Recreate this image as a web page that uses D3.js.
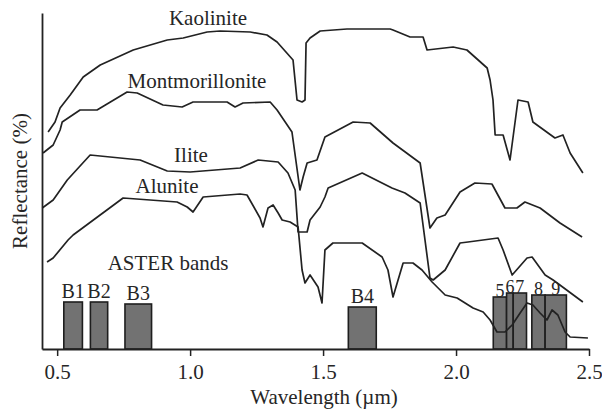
<!DOCTYPE html>
<html>
<head>
<meta charset="utf-8">
<script src="https://cdn.jsdelivr.net/npm/d3@7"></script>
<style>
  html, body { margin: 0; padding: 0; background: #fff; }
  svg { display: block; }
  text { font-family: "Liberation Serif", "DejaVu Serif", serif; fill: #262626; }
</style>
</head>
<body>
<svg id="chart" width="602" height="410"></svg>
<script>
// ---- Data (wavelength in µm, relative reflectance) ----
const kaoliniteW = [0.466,0.492,0.511,0.549,0.598,0.662,0.786,0.914,0.974,1.064,1.113,1.226,1.289,1.327,1.387,1.402,1.421,1.432,1.436,1.451,1.489,1.590,1.752,1.763,1.827,1.876,1.891,1.989,2.041,2.117,2.128,2.139,2.147,2.177,2.203,2.233,2.271,2.289,2.372,2.402,2.429,2.477];
const kaoliniteR = [54.25,56.75,60.25,63.5,68,71,74.75,77.25,77.75,79.25,79.5,79.25,78.5,76.75,72.25,62.25,61.75,62.25,76.5,77.75,79.5,80,80,79.75,78,78,74.75,75.5,74.75,70.25,67.25,62.25,53.5,53.5,47.25,62.25,61.75,56.75,52.75,53.5,49,44];

const montmorilloniteW = [0.447,0.485,0.511,0.519,0.586,0.650,0.763,0.801,0.898,0.970,1.011,1.139,1.169,1.199,1.301,1.327,1.383,1.413,1.425,1.440,1.477,1.507,1.613,1.677,1.763,1.865,1.902,1.928,1.959,2.015,2.071,2.135,2.184,2.229,2.259,2.316,2.391,2.474];
const montmorilloniteR = [49,51,54.75,56.75,59.75,59.75,64.25,64,61,60.5,61.75,61.75,60.5,61.5,61.75,59.75,54.25,39.75,43,46.5,47.25,53,56.75,56.5,51.5,46.5,30.25,32.75,33.5,39.25,41.5,41.25,35.25,35.25,36.75,35.25,31.5,28];

const illiteW = [0.444,0.485,0.538,0.624,0.812,0.914,1.000,1.188,1.256,1.331,1.368,1.395,1.406,1.440,1.451,1.489,1.507,1.519,1.647,1.759,1.808,1.865,1.902,1.914,1.959,2.015,2.045,2.158,2.177,2.211,2.267,2.286,2.335,2.365,2.477];
const illiteR = [35.25,37.25,42.25,48.5,47.25,44.5,44.25,45.25,47.25,46.75,44,39.75,29.25,29.25,32.25,35.5,38,40.25,44,40.25,39,36.5,17.75,17.25,19.75,26.5,26.75,27.75,24.75,18.5,22.75,23,18.5,17.25,11.75];

const aluniteW = [0.462,0.485,0.541,0.560,0.748,0.951,0.989,1.011,1.049,1.188,1.214,1.263,1.274,1.293,1.312,1.331,1.346,1.376,1.406,1.421,1.432,1.451,1.481,1.496,1.507,1.537,1.647,1.722,1.744,1.763,1.801,1.838,1.872,1.910,1.959,2.004,2.064,2.102,2.128,2.154,2.184,2.211,2.241,2.267,2.289,2.316,2.342,2.361,2.383,2.410,2.429,2.496];
const aluniteR = [21.75,22.75,27.25,28.5,37.75,36.75,35.5,34.25,38,38.75,38.5,32.75,30.5,35.25,36,34,32.25,31.75,30.5,19.75,16.5,18.5,15.5,11.5,24.75,26.5,26.5,23,19.75,13,21.5,21.5,19.75,16.75,13.5,12.75,10.25,9.25,7.25,4.25,4.25,6,9,11.5,11,9,7.25,9.75,8.5,4.25,3,2.75];

const mineralNames = ["Kaolinite", "Montmorillonite", "Ilite", "Alunite"];

// ASTER bands
const bandNames  = ["B1","B2","B3","B4","5","6","7","8","9"];
const bandStart  = [0.525,0.625,0.755,1.595,2.140,2.190,2.215,2.285,2.335];
const bandEnd    = [0.595,0.690,0.855,1.700,2.190,2.215,2.265,2.335,2.415];
const bandHeight = [11.75,11.75,11.25,10.5,13,14,14,13.5,13.5];

const xTicks = [0.5, 1.0, 1.5, 2.0, 2.5];

// ---- Layout ----
const svg = d3.select("#chart");
const x = d3.scaleLinear().domain([0.443, 2.5]).range([42, 589]);
const y = d3.scaleLinear().domain([0, 84]).range([349, 13]);

const ink = "#222";
const fs = 21;

// Bands
const bands = bandNames.map((n, i) => ({ n, s: bandStart[i], e: bandEnd[i], h: bandHeight[i] }));
svg.append("g").selectAll("rect").data(bands).join("rect")
  .attr("x", d => x(d.s))
  .attr("y", d => y(d.h))
  .attr("width", d => x(d.e) - x(d.s))
  .attr("height", d => y(0) - y(d.h))
  .attr("fill", "#727272")
  .attr("stroke", "#1e1e1e")
  .attr("stroke-width", 1.6);

// Band labels
svg.append("g").selectAll("text").data(bands).join("text")
  .attr("x", d => (x(d.s) + x(d.e)) / 2)
  .attr("y", d => y(d.h) - (d.n.length > 1 ? 4 : 0))
  .attr("text-anchor", "middle")
  .attr("font-size", d => d.n.length > 1 ? 20 : 18)
  .text(d => d.n);

svg.append("text").attr("x", 168).attr("y", 270).attr("text-anchor", "middle")
  .attr("font-size", fs).text("ASTER bands");

// Curves
const series = [
  { name: mineralNames[0], w: kaoliniteW, r: kaoliniteR },
  { name: mineralNames[1], w: montmorilloniteW, r: montmorilloniteR },
  { name: mineralNames[2], w: illiteW, r: illiteR },
  { name: mineralNames[3], w: aluniteW, r: aluniteR }
];
const line = d3.line().x(d => x(d[0])).y(d => y(d[1]));
svg.append("g").selectAll("path").data(series).join("path")
  .attr("d", s => line(s.w.map((w, i) => [w, s.r[i]])))
  .attr("fill", "none")
  .attr("stroke", ink)
  .attr("stroke-width", 1.7)
  .attr("stroke-linejoin", "round");

// Curve labels
const labelPos = [[208, 25], [197, 88], [191, 162], [167, 193]];
svg.append("g").selectAll("text").data(series).join("text")
  .attr("x", (d, i) => labelPos[i][0])
  .attr("y", (d, i) => labelPos[i][1])
  .attr("text-anchor", "middle")
  .attr("font-size", fs)
  .text(d => d.name);

// Axes
const xAxis = d3.axisBottom(x).tickValues(xTicks).tickFormat(d3.format(".1f"))
  .tickSize(7).tickPadding(8).tickSizeOuter(0);
const gx = svg.append("g").attr("transform", `translate(0,${y(0)})`).call(xAxis);
gx.select(".domain").attr("stroke", ink).attr("stroke-width", 1.8);
gx.selectAll(".tick line").attr("stroke", ink).attr("stroke-width", 1.5);
gx.selectAll(".tick text").attr("font-size", fs).attr("font-family", "Liberation Serif").attr("fill", ink);

const yAxis = d3.axisLeft(y).tickValues([]).tickSizeOuter(0);
const gy = svg.append("g").attr("transform", `translate(${x(0.443)},0)`).call(yAxis);
gy.select(".domain").attr("stroke", ink).attr("stroke-width", 1.8);

svg.append("text").attr("x", 324).attr("y", 404).attr("text-anchor", "middle")
  .attr("font-size", fs).text("Wavelength (µm)");
svg.append("text").attr("transform", "translate(27,181) rotate(-90)")
  .attr("text-anchor", "middle").attr("font-size", fs).text("Reflectance (%)");
</script>
</body>
</html>
